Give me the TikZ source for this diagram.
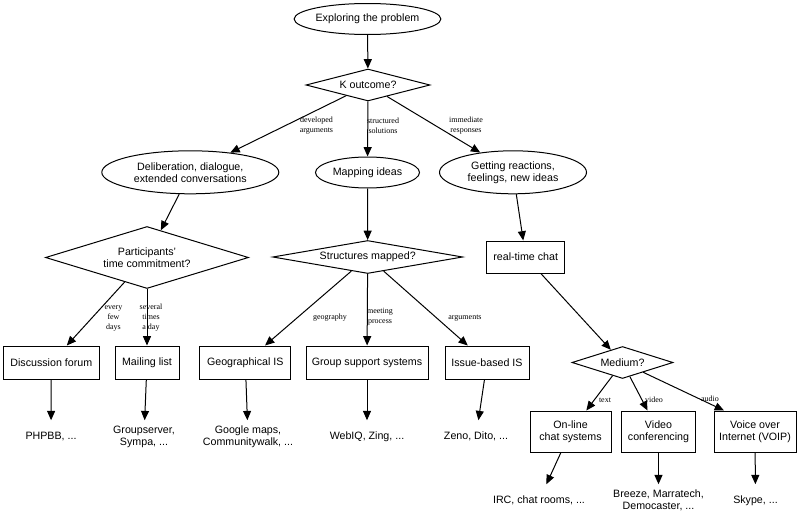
\documentclass[tikz,border=0pt]{standalone}
\usepackage{fontspec}
\setmainfont{Liberation Sans}
\newfontfamily\labfont{Liberation Serif}
\usetikzlibrary{shapes.geometric,arrows.meta}
\begin{document}
\begin{tikzpicture}[x=0.75pt,y=-0.75pt,
  every node/.style={inner sep=0pt, font=\fontsize{8}{9}\selectfont, align=center},
  oval/.style={draw, ellipse, line width=0.75pt},
  dec/.style={draw, diamond, line width=0.75pt},
  box/.style={draw, rectangle, line width=0.75pt},
  plain/.style={minimum height=24pt, minimum width=40pt},
  lab/.style={font=\labfont\fontsize{6}{7.5}\selectfont},
  link/.style={draw, line width=0.75pt, -{Triangle[length=7pt,width=6pt]}}
]
\useasboundingbox (0,0) rectangle (800,521);

% level 0/1
\node[oval, minimum width=107.25pt, minimum height=23.25pt] (explore) at (367.5,19) {Exploring the problem};
\node[dec, shape aspect=3.9, minimum width=93pt, minimum height=24pt] (k) at (368,85) {K outcome?};

% level 2
\node[oval, minimum width=132.75pt, minimum height=32.25pt] (delib) at (190.3,172.3) {Deliberation, dialogue,\\extended conversations};
\node[oval, minimum width=78pt, minimum height=23.25pt] (mapping) at (367.5,172.5) {Mapping ideas};
\node[oval, minimum width=110.25pt, minimum height=32.25pt] (getting) at (513,172.3) {Getting reactions,\\feelings, new ideas};

% level 3
\node[dec, shape aspect=3.27, minimum width=152.25pt, minimum height=46.5pt] (particip) at (147,257.5) {Participants'\\time commitment?};
\node[dec, shape aspect=5.76, minimum width=142.5pt, minimum height=24.75pt] (struct) at (367.7,257) {Structures mapped?};
\node[box, minimum width=58.5pt, minimum height=24pt] (realtime) at (525.7,257) {real-time chat};

% level 4
\node[box, minimum width=72pt, minimum height=24.75pt] (discussion) at (51.3,362.5) {Discussion forum};
\node[box, minimum width=48pt, minimum height=24.75pt] (mailing) at (147,362.5) {Mailing list};
\node[box, minimum width=68.25pt, minimum height=24.75pt] (geo) at (245.3,362.5) {Geographical IS};
\node[box, minimum width=91.5pt, minimum height=24.75pt] (group) at (367,362.5) {Group support systems};
\node[box, minimum width=63pt, minimum height=24.75pt] (issue) at (487,362.5) {Issue-based IS};
\node[dec, shape aspect=3.16, minimum width=75.75pt, minimum height=24pt] (medium) at (622.5,362.5) {Medium?};

% level 5
\node[plain] (t1) at (51,436.5) {PHPBB, ...};
\node[plain] (t2) at (144,436.5) {Groupserver,\\Sympa, ...};
\node[plain] (t3) at (248,436.5) {Google maps,\\Communitywalk, ...};
\node[plain] (t4) at (367,436.5) {WebIQ, Zing, ...};
\node[plain] (t5) at (476,436.5) {Zeno, Dito, ...};
\node[box, minimum width=60.75pt, minimum height=30.75pt] (online) at (570.5,431.5) {On-line\\chat systems};
\node[box, minimum width=55.5pt, minimum height=30.75pt] (video) at (658.5,431.5) {Video\\conferencing};
\node[box, minimum width=61.5pt, minimum height=30.75pt] (voice) at (755,431.5) {Voice over\\Internet (VOIP)};

% level 6
\node[plain] (t6) at (539,500.5) {IRC, chat rooms, ...};
\node[plain] (t7) at (658.5,500.5) {Breeze, Marratech,\\Democaster, ...};
\node[plain] (t8) at (755.5,500.5) {Skype, ...};

% edge labels
\node[lab] (l1) at (316.5,126) {developed\\arguments};
\node[lab] (l2) at (383,126) {structured\\solutions};
\node[lab] (l3) at (466,126) {immediate\\responses};
\node[lab] (l4) at (113.5,318) {every\\few\\days};
\node[lab] (l5) at (151,318) {several\\times\\a day};
\node[lab] (l6) at (330,318) {geography};
\node[lab] (l7) at (380,316.5) {meeting\\process};
\node[lab] (l8) at (465,318) {arguments};
\node[lab] (l9) at (605,400) {text};
\node[lab] (l10) at (654,400) {video};
\node[lab] (l11) at (710,399) {audio};

% connectors
\draw[link] (explore) -- (k);
\draw[link] (k) -- (delib);
\draw[link] (k) -- (mapping);
\draw[link] (k) -- (getting);
\draw[link] (delib) -- (particip);
\draw[link] (mapping) -- (struct);
\draw[link] (getting) -- (realtime);
\draw[link] (particip) -- (discussion);
\draw[link] (particip) -- (mailing);
\draw[link] (struct) -- (geo);
\draw[link] (struct) -- (group);
\draw[link] (struct) -- (issue);
\draw[link] (realtime) -- (medium);
\draw[link] (medium) -- (online);
\draw[link] (medium) -- (video);
\draw[link] (medium) -- ([xshift=-23.25pt]voice.north);
\draw[link] (discussion) -- (t1);
\draw[link] (mailing) -- (t2);
\draw[link] (geo) -- (t3);
\draw[link] (group) -- (t4);
\draw[link] (issue) -- (t5);
\draw[link] (online) -- (t6);
\draw[link] (video) -- (t7);
\draw[link] (voice) -- (t8);
\end{tikzpicture}
\end{document}
